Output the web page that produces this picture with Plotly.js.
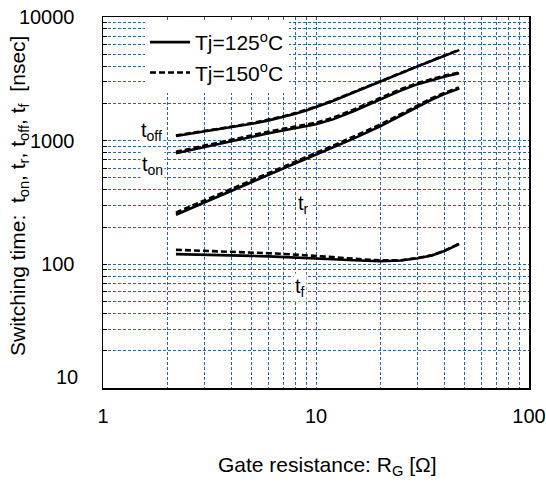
<!DOCTYPE html>
<html>
<head>
<meta charset="utf-8">
<script src="https://cdn.plot.ly/plotly-3.0.1.min.js"></script>
<style>html,body{margin:0;padding:0;background:#fff}#chart{width:546px;height:486px}</style>
</head>
<body>
<div id="chart"></div>
<script>
// Gate resistance RG [Ohm]
const RG = [2.2, 3, 4, 5, 6, 7, 8, 9, 10, 12, 15, 20, 25, 30, 35, 40, 47];
// Tj = 125 C  (switching times, nsec)
const toff125 = [1091, 1183, 1282, 1371, 1459, 1552, 1652, 1754, 1862, 2094, 2449, 3013, 3524, 3990, 4426, 4842, 5395];
const ton125  = [791, 889, 993, 1079, 1148, 1208, 1256, 1303, 1358, 1486, 1730, 2153, 2541, 2864, 3105, 3289, 3508];
const tr125   = [252, 318, 395, 467, 533, 596, 656, 714, 771, 879, 1038, 1306, 1589, 1888, 2153, 2377, 2643];
const tf125   = [121, 120, 118.5, 117, 116, 115, 114, 113, 112, 110, 108, 106, 107.5, 112, 118, 128, 146];
// Tj = 150 C
const toff150 = [1102, 1195, 1296, 1386, 1475, 1569, 1670, 1773, 1882, 2116, 2474, 3043, 3558, 4028, 4466, 4882, 5430];
const ton150  = [812, 914, 1022, 1111, 1183, 1245, 1294, 1342, 1398, 1530, 1780, 2212, 2605, 2930, 3170, 3350, 3565];
const tr150   = [262, 330, 409, 483, 551, 616, 678, 738, 797, 908, 1072, 1348, 1638, 1942, 2210, 2432, 2695];
const tf150   = [131, 129, 127, 125, 123, 121.5, 120, 119, 117.5, 114.5, 111, 107.5, 108, 112.5, 118.5, 128.5, 147];

const xTicks = [1, 10, 100];
const yTicks = [10, 100, 1000, 10000];
const legendNames = ['Tj=125<sup>o</sup>C', 'Tj=150<sup>o</sup>C'];
const curveLabels = ['t<sub>off</sub>', 't<sub>on</sub>', 't<sub>r</sub>', 't<sub>f</sub>'];
const NB = '\u00a0';

const FONT = 'Liberation Sans, Arial, sans-serif';
const solid = {color: '#000', width: 2.6};
const dashed = {color: '#000', width: 2.6, dash: '6px,3px'};

const traces = [];
[toff150, ton150, tr150, tf150].forEach((y, i) => traces.push({
  x: RG, y: y, mode: 'lines', line: dashed, name: legendNames[1],
  legendgroup: 'b', legendrank: 2, showlegend: i === 0, hoverinfo: 'skip'
}));
[toff125, ton125, tr125, tf125].forEach((y, i) => traces.push({
  x: RG, y: y, mode: 'lines', line: solid, name: legendNames[0],
  legendgroup: 'a', legendrank: 1, showlegend: i === 0, hoverinfo: 'skip'
}));

const gridCol = '#2f5fb3';
const L = 103, R = 529, T = 17, B = 388;
const px = x => (x - L) / (R - L);
const py = y => 1 - (y - T) / (B - T);

const labelPos = [[151, 131], [152, 165], [303, 204], [300, 287]];
const annotations = curveLabels.map((txt, i) => ({
  text: txt, xref: 'paper', yref: 'paper', x: px(labelPos[i][0]), y: py(labelPos[i][1]),
  showarrow: false, font: {family: FONT, size: 20, color: '#000'},
  bgcolor: '#fff', borderpad: 1, xanchor: 'center', yanchor: 'middle'
}));
// lowest y tick label sits a little above its gridline (avoids the x labels)
annotations.push({
  text: String(yTicks[0]), xref: 'paper', yref: 'paper', x: px(80), y: py(377),
  showarrow: false, font: {family: FONT, size: 20, color: '#000'},
  xanchor: 'right', yanchor: 'middle'
});
annotations.push({
  text: 'Gate resistance: R<sub>G</sub> [Ω]', xref: 'paper', yref: 'paper',
  x: px(327), y: py(466), showarrow: false, font: {family: FONT, size: 21, color: '#000'},
  xanchor: 'center', yanchor: 'middle'
});
annotations.push({
  text: 'Switching time:' + NB + NB + 't<sub>on</sub>, t<sub>r</sub>, t<sub>off</sub>, t<sub>f</sub>' + NB + NB + '[nsec]',
  xref: 'paper', yref: 'paper', x: px(19), y: py(196), textangle: -90,
  showarrow: false, font: {family: FONT, size: 21, color: '#000'},
  xanchor: 'center', yanchor: 'middle'
});

const layout = {
  width: 546, height: 486,
  margin: {l: L, r: 546 - R, t: T, b: 486 - B, pad: 0},
  paper_bgcolor: '#fff', plot_bgcolor: '#fff',
  font: {family: FONT, size: 20, color: '#000'},
  showlegend: true,
  legend: {
    x: px(145), y: py(22), xanchor: 'left', yanchor: 'top',
    bgcolor: '#fff', borderwidth: 0, font: {family: FONT, size: 21, color: '#000'},
    tracegroupgap: 0, itemwidth: 40
  },
  xaxis: {
    type: 'log', range: [0, 2], tickvals: xTicks, ticktext: xTicks.map(String),
    showgrid: true, gridcolor: gridCol, gridwidth: 1, griddash: '3px,2px',
    minor: {dtick: 'D1', showgrid: true, gridcolor: gridCol, gridwidth: 1, griddash: '3px,2px', ticks: ''},
    ticks: '', showline: true, linecolor: '#000', linewidth: 1.5, mirror: true,
    zeroline: false, ticklabelstandoff: 9, tickfont: {family: FONT, size: 20, color: '#000'}
  },
  yaxis: {
    type: 'log', range: [1, 4], tickvals: yTicks,
    ticktext: yTicks.map((v, i) => i === 0 ? '' : String(v)),
    showgrid: true, gridcolor: gridCol, gridwidth: 1, griddash: '3px,2px',
    minor: {dtick: 'D1', showgrid: true, gridcolor: gridCol, gridwidth: 1, griddash: '3px,2px',
            ticks: 'inside', ticklen: 4, tickcolor: '#000'},
    ticks: 'inside', ticklen: 4, tickcolor: '#000',
    showline: true, linecolor: '#000', linewidth: 1.5, mirror: true,
    zeroline: false, ticklabelstandoff: 23, tickfont: {family: FONT, size: 20, color: '#000'}
  },
  annotations: annotations
};

Plotly.newPlot('chart', traces, layout, {staticPlot: true, displayModeBar: false});
</script>
</body>
</html>
